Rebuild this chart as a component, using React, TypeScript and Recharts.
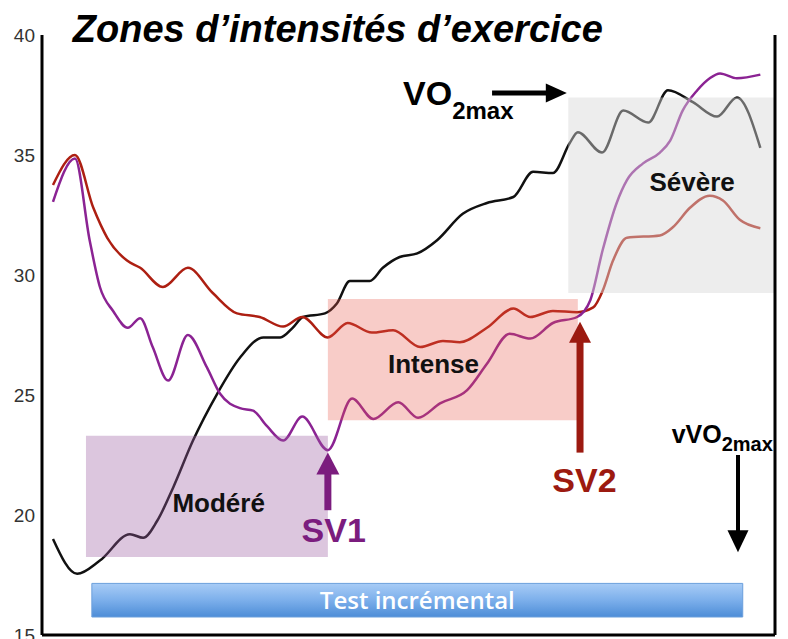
import React from "react";
import {
  LineChart,
  Line,
  XAxis,
  YAxis,
  ReferenceArea,
  ReferenceLine,
  ReferenceDot,
} from "recharts";

const yTicks = [15, 20, 25, 30, 35, 40];

// VO2 (black)
const vo2Time = [1.5, 4.8, 7.9, 12.0, 13.8, 15.7, 17.9, 20.6, 23.9, 27.0, 30.2, 32.5, 34.2, 35.6, 38.6, 40.2, 42.0, 44.7, 46.5, 48.8, 51.2, 53.9, 57.4, 60.7, 64.3, 67.0, 69.7, 72.0, 73.1, 76.4, 79.3, 82.7, 85.4, 88.8, 92.1, 94.8, 98.0];
const vo2Values = [19.0, 17.55, 18.1, 19.2, 19.05, 19.75, 21.15, 23.1, 25.05, 26.55, 27.4, 27.4, 27.8, 28.25, 28.4, 28.8, 29.75, 29.75, 30.3, 30.75, 30.9, 31.45, 32.55, 33.0, 33.25, 34.3, 34.25, 35.5, 35.95, 35.1, 36.85, 36.35, 37.7, 37.2, 36.6, 37.4, 35.3];

// VE/VO2 (violet)
const veVo2Time = [1.5, 4.5, 6.5, 7.9, 9.7, 11.7, 13.4, 15.1, 17.2, 19.9, 22.5, 24.3, 27.0, 28.8, 30.7, 32.9, 35.5, 39.0, 42.3, 45.2, 48.6, 51.3, 54.3, 58.0, 60.7, 63.8, 66.6, 69.7, 73.0, 74.8, 76.5, 78.4, 79.8, 82.0, 84.3, 85.7, 87.4, 89.4, 91.1, 92.5, 94.8, 98.0];
const veVo2Values = [33.05, 34.85, 31.45, 29.5, 28.5, 27.8, 28.2, 27.0, 25.6, 27.5, 26.15, 25.05, 24.45, 24.35, 23.7, 23.1, 24.1, 22.7, 24.85, 24.0, 24.7, 24.05, 24.65, 25.2, 26.3, 27.55, 27.35, 28.0, 28.25, 28.95, 31.05, 33.0, 33.95, 34.65, 35.1, 35.6, 36.85, 37.7, 38.2, 38.4, 38.2, 38.35];

// VE/VCO2 (rouge)
const veVco2Time = [1.5, 4.5, 7.0, 8.9, 11.6, 13.4, 16.5, 19.9, 23.3, 26.6, 29.7, 32.9, 35.5, 39.0, 41.7, 45.0, 47.9, 51.6, 54.7, 57.0, 60.7, 64.3, 66.6, 69.7, 73.0, 75.2, 76.5, 77.9, 79.8, 84.3, 86.1, 88.4, 91.1, 92.9, 95.2, 98.0];
const veVco2Values = [33.75, 35.0, 32.8, 31.55, 30.6, 30.3, 29.5, 30.3, 29.25, 28.4, 28.25, 27.85, 28.25, 27.4, 28.0, 27.6, 27.7, 27.0, 27.25, 27.2, 27.8, 28.6, 28.25, 28.5, 28.45, 28.65, 29.35, 30.6, 31.55, 31.65, 32.0, 32.8, 33.3, 33.1, 32.3, 31.95];

const toPoints = (t: number[], v: number[]) => t.map((x, i) => ({ t: x, v: v[i] }));

const FONT = '"Liberation Sans", Arial, Helvetica, sans-serif';
const PURPLE = "#8b2393";
const DARK_PURPLE = "#7b1c7e";
const RED = "#ad1f12";
const DARK_RED = "#9c1a10";

// arrow drawn along a ReferenceLine segment, head at the second point
const arrow = (color: string, width: number, headLen: number, headW: number) => (p: any) => {
  const { x1, y1, x2, y2 } = p;
  const len = Math.hypot(x2 - x1, y2 - y1) || 1;
  const ux = (x2 - x1) / len;
  const uy = (y2 - y1) / len;
  const bx = x2 - ux * headLen;
  const by = y2 - uy * headLen;
  const nx = (-uy * headW) / 2;
  const ny = (ux * headW) / 2;
  return (
    <g>
      <line x1={x1} y1={y1} x2={bx + ux} y2={by + uy} stroke={color} strokeWidth={width} />
      <polygon points={`${x2},${y2} ${bx + nx},${by + ny} ${bx - nx},${by - ny}`} fill={color} />
    </g>
  );
};

const label = (text: string, style: any, sub?: { text: string; size: number; dy: number }) => (p: any) => (
  <text x={p.cx} y={p.cy} fontFamily={FONT} fontWeight="bold" {...style}>
    {text}
    {sub && (
      <tspan dy={sub.dy} fontSize={sub.size}>
        {sub.text}
      </tspan>
    )}
  </text>
);

export default function App() {
  return (
    <div style={{ position: "fixed", left: 0, top: 0, width: 788, height: 639, background: "#fff" }}>
      <LineChart width={788} height={639} margin={{ top: 35, right: 13, bottom: 4, left: 0 }}>
        <defs>
          <linearGradient id="testGrad" x1="0" y1="0" x2="0" y2="1">
            <stop offset="0%" stopColor="#a8ccf6" />
            <stop offset="50%" stopColor="#7cafeb" />
            <stop offset="100%" stopColor="#4d8dd7" />
          </linearGradient>
        </defs>
        <XAxis type="number" dataKey="t" domain={[0, 100]} allowDataOverflow hide height={0} />
        <YAxis
          type="number"
          domain={[15, 40]}
          ticks={yTicks}
          interval={0}
          width={42}
          tickLine={false}
          tickSize={5}
          tickMargin={2}
          axisLine={{ stroke: "#000", strokeWidth: 3 }}
          tick={{ fill: "#333", fontSize: 19, fontFamily: FONT }}
        />
        <Line data={toPoints(vo2Time, vo2Values)} dataKey="v" type="monotone" stroke="#111" strokeWidth={2.5} dot={false} isAnimationActive={false} />
        <Line data={toPoints(veVco2Time, veVco2Values)} dataKey="v" type="monotone" stroke={RED} strokeWidth={2.5} dot={false} isAnimationActive={false} />
        <Line data={toPoints(veVo2Time, veVo2Values)} dataKey="v" type="monotone" stroke={PURPLE} strokeWidth={2.5} dot={false} isAnimationActive={false} />

        <ReferenceArea x1={6.0} x2={39.0} y1={18.25} y2={23.3} fill="#9b5ca1" fillOpacity={0.35} stroke="none" zIndex={450} />
        <ReferenceArea x1={39.0} x2={73.1} y1={23.95} y2={29.0} fill="#e85548" fillOpacity={0.3} stroke="none" zIndex={450} />
        <ReferenceArea x1={71.8} x2={100} y1={29.25} y2={37.4} fill="#d6d6d6" fillOpacity={0.45} stroke="none" zIndex={450} />
        <ReferenceArea
          x1={6.8}
          x2={95.6}
          y1={15.75}
          y2={17.15}
          fill="url(#testGrad)"
          fillOpacity={1}
          stroke="#6b9fdc"
          strokeWidth={1}
          zIndex={460}
          label={{ value: "Test incrémental", position: "center", fill: "#fff", fontSize: 24, fontFamily: '"Open Sans", sans-serif', fontWeight: 600 }}
        />

        <ReferenceLine x={100} stroke="#000" strokeWidth={3} zIndex={500} />
        <ReferenceLine y={15} stroke="#000" strokeWidth={3} zIndex={500} />

        <ReferenceLine segment={[{ x: 61.4, y: 37.58 }, { x: 71.6, y: 37.58 }]} shape={arrow("#000", 5, 21, 19)} zIndex={600} />
        <ReferenceLine segment={[{ x: 39.0, y: 20.2 }, { x: 39.0, y: 22.6 }]} shape={arrow(DARK_PURPLE, 7, 22, 23)} zIndex={600} />
        <ReferenceLine segment={[{ x: 73.4, y: 22.6 }, { x: 73.4, y: 28.05 }]} shape={arrow(DARK_RED, 7, 21, 22)} zIndex={600} />
        <ReferenceLine segment={[{ x: 94.95, y: 22.5 }, { x: 94.95, y: 18.45 }]} shape={arrow("#000", 4, 22, 21)} zIndex={600} />

        <ReferenceDot x={4.2} y={39.7} r={0} ifOverflow="visible" zIndex={2000}
          shape={label("Zones d’intensités d’exercice", { fontSize: 38, fontStyle: "italic", fill: "#000" })} />
        <ReferenceDot x={49.25} y={37.08} r={0} ifOverflow="visible" zIndex={2000}
          shape={label("VO", { fontSize: 34, fill: "#000" }, { text: "2max", size: 24, dy: 14 })} />
        <ReferenceDot x={85.9} y={23.0} r={0} ifOverflow="visible" zIndex={2000}
          shape={label("vVO", { fontSize: 25, fill: "#000" }, { text: "2max", size: 20, dy: 8 })} />
        <ReferenceDot x={88.7} y={33.5} r={0} ifOverflow="visible" zIndex={2000}
          shape={label("Sévère", { fontSize: 26, fill: "#111", textAnchor: "middle" })} />
        <ReferenceDot x={53.4} y={25.92} r={0} ifOverflow="visible" zIndex={2000}
          shape={label("Intense", { fontSize: 26, fill: "#111", textAnchor: "middle" })} />
        <ReferenceDot x={24.1} y={20.12} r={0} ifOverflow="visible" zIndex={2000}
          shape={label("Modéré", { fontSize: 26, fill: "#111", textAnchor: "middle" })} />
        <ReferenceDot x={39.8} y={18.88} r={0} ifOverflow="visible" zIndex={2000}
          shape={label("SV1", { fontSize: 34, fill: DARK_PURPLE, textAnchor: "middle" })} />
        <ReferenceDot x={74.0} y={20.96} r={0} ifOverflow="visible" zIndex={2000}
          shape={label("SV2", { fontSize: 34, fill: DARK_RED, textAnchor: "middle" })} />
      </LineChart>
    </div>
  );
}
